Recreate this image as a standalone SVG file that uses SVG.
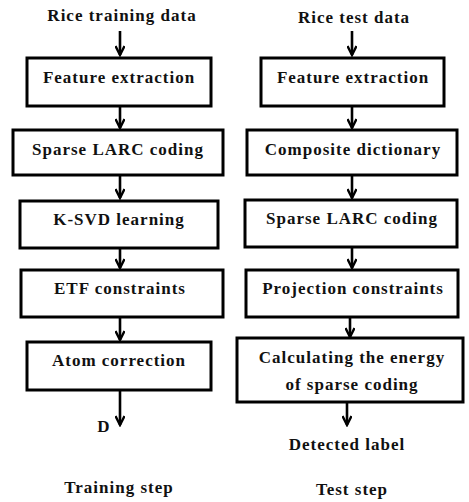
<svg xmlns="http://www.w3.org/2000/svg" width="469" height="502" viewBox="0 0 469 502">
<style>
.box{fill:#fff;stroke:#000;stroke-width:3}
.c{stroke:#000;stroke-width:2.6;fill:none}
</style>
<defs>
<marker id="ah" viewBox="0 0 12 10" refX="10" refY="5" markerWidth="12" markerHeight="10" markerUnits="userSpaceOnUse" orient="auto">
<path d="M1 0.5 L10 5 L1 9.5" fill="none" stroke="#000" stroke-width="2.4"/>
</marker>
</defs>
<rect width="469" height="502" fill="#fff"/>
<g id="connectors">
<line class="c" x1="120" y1="31" x2="120" y2="55" marker-end="url(#ah)"/>
<line class="c" x1="120" y1="106" x2="120" y2="128" marker-end="url(#ah)"/>
<line class="c" x1="120" y1="175" x2="120" y2="198" marker-end="url(#ah)"/>
<line class="c" x1="120" y1="248" x2="120" y2="268" marker-end="url(#ah)"/>
<line class="c" x1="120" y1="317" x2="120" y2="340" marker-end="url(#ah)"/>
<line class="c" x1="120" y1="390" x2="120" y2="425" marker-end="url(#ah)"/>
<line class="c" x1="352" y1="31" x2="352" y2="55" marker-end="url(#ah)"/>
<line class="c" x1="352" y1="106" x2="352" y2="128" marker-end="url(#ah)"/>
<line class="c" x1="352" y1="175" x2="352" y2="198" marker-end="url(#ah)"/>
<line class="c" x1="352" y1="247" x2="352" y2="268" marker-end="url(#ah)"/>
<line class="c" x1="350" y1="317" x2="350" y2="337" marker-end="url(#ah)"/>
<line class="c" x1="347" y1="402" x2="347" y2="425" marker-end="url(#ah)"/>
</g>
<g font-family="'Liberation Serif', 'Times New Roman', serif" font-weight="bold" font-size="17" fill="#111" text-anchor="middle" letter-spacing="1">
<g id="train_input"><text x="122" y="21">Rice training data</text></g>
<g id="train_fe"><rect class="box" x="27" y="58" width="184" height="48"/><text x="119" y="83">Feature extraction</text></g>
<g id="train_larc"><rect class="box" x="13" y="130" width="210" height="45"/><text x="118" y="155">Sparse LARC coding</text></g>
<g id="train_ksvd"><rect class="box" x="20" y="201" width="198" height="47"/><text x="119" y="225">K-SVD learning</text></g>
<g id="train_etf"><rect class="box" x="21" y="270" width="202" height="47"/><text x="120" y="294">ETF constraints</text></g>
<g id="train_atom"><rect class="box" x="27" y="342" width="184" height="48"/><text x="119" y="366">Atom correction</text></g>
<g id="train_D"><text x="104" y="432">D</text></g>
<g id="train_caption"><text x="119" y="493">Training step</text></g>
<g id="test_input"><text x="354" y="23">Rice test data</text></g>
<g id="test_fe"><rect class="box" x="261" y="58" width="183" height="48"/><text x="353" y="83">Feature extraction</text></g>
<g id="test_dict"><rect class="box" x="247" y="130" width="210" height="45"/><text x="353" y="155">Composite dictionary</text></g>
<g id="test_larc"><rect class="box" x="245" y="200" width="212" height="47"/><text x="352" y="224">Sparse LARC coding</text></g>
<g id="test_proj"><rect class="box" x="246" y="270" width="212" height="47"/><text x="353" y="294">Projection  constraints</text></g>
<g id="test_energy"><rect class="box" x="237" y="338" width="226" height="64"/><text x="352" y="363">Calculating the energy</text><text x="352" y="390">of sparse coding</text></g>
<g id="test_label"><text x="347" y="450">Detected label</text></g>
<g id="test_caption"><text x="352" y="495">Test step</text></g>
</g>
</svg>
